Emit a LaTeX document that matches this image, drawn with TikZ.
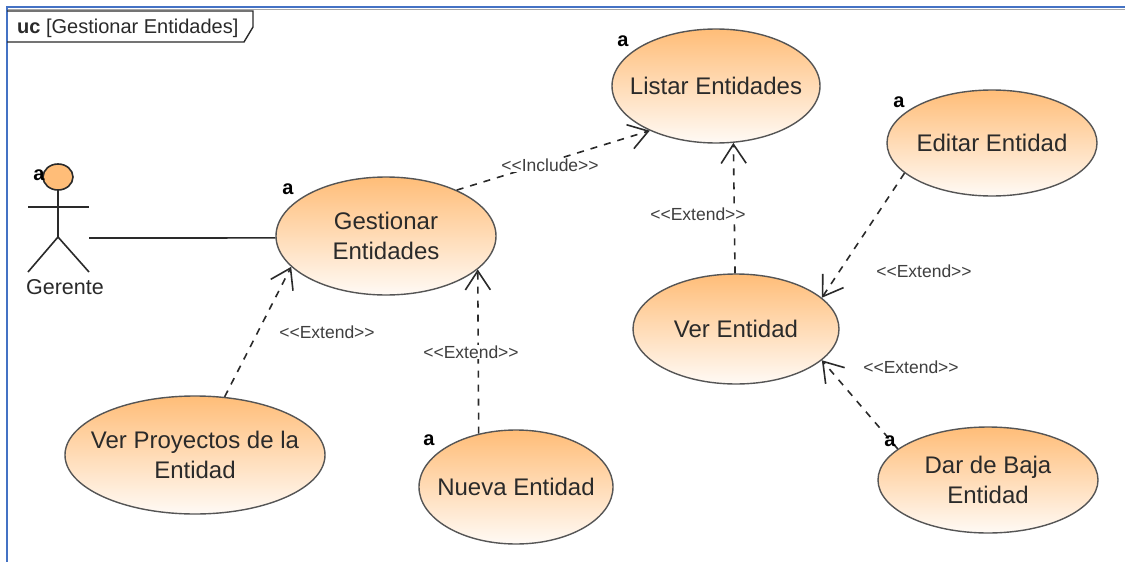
\documentclass[tikz,border=0pt]{standalone}
\usepackage{fontspec}
\setmainfont{Liberation Sans}
\usetikzlibrary{shapes.geometric,arrows.meta}
\definecolor{naranja}{HTML}{FFBD78}
\definecolor{crema}{HTML}{FFFAF5}
\definecolor{linea}{HTML}{2A2A2A}
\definecolor{marco}{HTML}{4472C4}
\newcommand{\estereo}[1]{<{}<#1>{}>}
\tikzset{
  casouso/.style={ellipse,draw=linea!80,line width=1.4pt,top color=naranja,bottom color=crema,inner xsep=-40pt,inner ysep=-10pt,align=center,font=\fontsize{24}{30}\selectfont,text=linea},
  rel/.style={draw=linea,line width=1.6pt,dash pattern=on 7pt off 7pt,-{Straight Barb[length=19pt,width=25pt,line width=1.6pt]}},
  etiq/.style={font=\fontsize{17.5}{19}\selectfont,text=linea!90,fill=white,inner sep=1pt},
  marca/.style={font=\fontsize{20}{20}\selectfont\bfseries,text=black,inner sep=0pt},
  actor/.style={draw=linea,line width=1.6pt}
}
\begin{document}
\begin{tikzpicture}[x=1pt,y=-1pt]
\useasboundingbox (0,0) rectangle (1125,562);
\fill[white] (0,0) rectangle (1125,562);

\draw[gray!70,line width=1pt] (7,9) -- (1125,9);
\draw[marco,line width=2pt] (7,562) -- (7,7) -- (1125,7);
\draw[linea,line width=1.4pt] (7,11) -- (253,11) -- (253,27) -- (244,42) -- (7,42);
\node[anchor=west,inner sep=0pt,text=linea,font=\fontsize{20}{22}\selectfont] (marcotexto) at (17,28) {\textbf{uc} [Gestionar Entidades]};

\node[casouso,minimum width=208pt,minimum height=114pt] (listar) at (716,86) {Listar Entidades};
\node[casouso,minimum width=210pt,minimum height=106pt] (editar) at (992,143) {Editar Entidad};
\node[casouso,minimum width=220pt,minimum height=118pt] (gestionar) at (386,236) {Gestionar\\Entidades};
\node[casouso,minimum width=206pt,minimum height=110pt] (ver) at (736,329) {Ver Entidad};
\node[casouso,minimum width=260pt,minimum height=118pt] (proyectos) at (195,455) {Ver Proyectos de la\\Entidad};
\node[casouso,minimum width=194pt,minimum height=114pt] (nueva) at (516,487) {Nueva Entidad};
\node[casouso,minimum width=220pt,minimum height=106pt] (baja) at (988,480) {Dar de Baja\\Entidad};

\draw[actor,fill=naranja] (58,177) ellipse (15 and 13);
\draw[actor] (58,190) -- (58,237);
\draw[actor] (28,207) -- (89,207);
\draw[actor] (28,272) -- (58,237) -- (89,272);
\node[text=linea,font=\fontsize{21.5}{24}\selectfont] (gerente) at (65,287) {Gerente};
\coordinate (mano) at (89,238);

\draw[actor] (mano) -- (gestionar.181);
\draw[rel] (gestionar.33) -- (listar.214);
\draw[rel] (ver.91) -- (listar.-73);
\draw[rel] (editar.199) -- (ver.20);
\draw[rel] (baja.161) -- (ver.-20);
\draw[rel] (proyectos.63) -- (gestionar.198);
\draw[rel] (nueva.125) -- (gestionar.-20);

\node[etiq] (e1) at (550,165) {\estereo{Include}};
\node[etiq] (e2) at (698,214) {\estereo{Extend}};
\node[etiq] (e3) at (924,271) {\estereo{Extend}};
\node[etiq] (e4) at (911,367) {\estereo{Extend}};
\node[etiq] (e5) at (327,332) {\estereo{Extend}};
\node[etiq] (e6) at (471,352) {\estereo{Extend}};

\node[marca] (a1) at (39,175) {a};
\node[marca] (a2) at (288,189) {a};
\node[marca] (a3) at (623,41) {a};
\node[marca] (a4) at (899,102) {a};
\node[marca] (a5) at (429,440) {a};
\node[marca] (a6) at (890,441) {a};

\end{tikzpicture}
\end{document}
